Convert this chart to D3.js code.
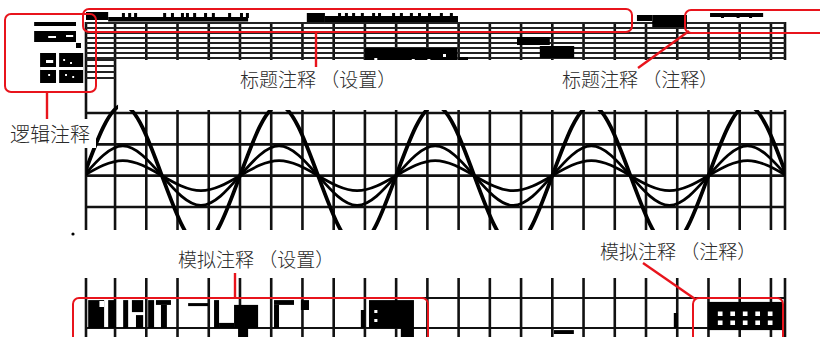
<!DOCTYPE html>
<html>
<head>
<meta charset="utf-8">
<script src="https://cdn.jsdelivr.net/npm/d3@7"></script>
<style>
  html, body { margin: 0; padding: 0; background: #fff; }
  svg { display: block; }
  .lbl { font-family: "Noto Sans CJK SC", sans-serif; font-weight: 300; fill: #2a2a2a; }
</style>
</head>
<body>
<div id="scope"></div>
<script>
const width = 820, height = 337;

// screen grid: columns and rows in divisions
const gridCols = [0, 1, 2, 3, 4, 5, 6, 7, 8, 9, 10, 11, 12, 13, 14, 15, 16, 17, 18, 19, 20, 21];
const borderCols = [-0.93, 21.45];
const waveRows = [2, 1, 0, -1];
const menuRows = [0, 1, 2, 3, 4, 5, 6, 7];
const sideRows = [7.4, 8.6, 9.8, 11];

// waveform samples: time (div) of crossings and extrema
const waveT = [-1, 0.25, 1.5, 2.75, 4, 5.25, 6.5, 7.75, 9, 10.25, 11.5, 12.75, 14, 15.25, 16.5, 17.75, 19, 20.25, 21.5];
const waveBig = [0, 2.25, 0, -2.25, 0, 2.25, 0, -2.25, 0, 2.25, 0, -2.25, 0, 2.25, 0, -2.25, 0, 2.25, 0];
const waveMid = [0, 0.95, 0, -0.95, 0, 0.95, 0, -0.95, 0, 0.95, 0, -0.95, 0, 0.95, 0, -0.95, 0, 0.95, 0];
const waveSmall = [0, 0.48, 0, -0.48, 0, 0.48, 0, -0.48, 0, 0.48, 0, -0.48, 0, 0.48, 0, -0.48, 0, 0.48, 0];

// screen content blobs [x0, x1, row0, row1]
const headerBlocks = [
  [-0.93, -0.22, -2.2, -0.6], [-0.22, 4.26, -1.2, -0.3],
  [6.14, 6.72, -2.0, -0.2], [6.72, 10.98, -1.4, -0.2],
  [16.71, 17.2, -1.6, -0.4], [17.2, 18.31, -1.6, 0.8],
  [19.05, 20.75, -2.0, -1.2],
  [8.0, 10.95, 5.0, 7.4], [12.87, 13.92, 2.8, 4.4], [13.6, 14.7, 4.6, 7.0], [11.0, 11.3, 6.8, 7.4]
];
const headerSpikes = [0.22, 0.42, 0.61, 1.54, 1.79, 2.11, 2.27, 2.5, 2.85, 3.1, 3.62, 4.0, 4.19,
  7.14, 7.36, 7.59, 7.87, 8.23, 8.42, 8.87, 9.12, 9.44, 9.7, 10.02, 10.4, 10.72, 19.4, 19.9, 20.3];
const headerHoles = [[8.3, 7.0], [9.5, 7.2], [10.0, 7.2], [10.5, 6.2]];

const logicBlocks = [
  [-2.59, -1.25, -0.2, 0.6], [-2.59, -1.25, 1.6, 3.8], [-1.25, -1.09, 4.0, 5.0], [-2.4, -1.02, 6.0, 12.0]
];
const logicHoles = [
  [-2.14, -1.89, 2.6, 3.0], [-1.57, -1.34, 2.4, 2.8], [-1.89, -1.79, 6.0, 12.0], [-2.4, -1.02, 8.8, 9.4],
  [-2.21, -1.98, 7.4, 8.0], [-1.66, -1.6, 7.2, 7.6], [-1.44, -1.38, 7.8, 8.2], [-1.6, -1.54, 10.2, 10.6],
  [-1.37, -1.31, 10.6, 11.0], [-2.14, -2.08, 10.2, 10.6]
];

const bottomBlocks = [
  [-0.86, -0.35, 0.07, 1], [-0.22, 0.03, 0.07, 1], [0.26, 0.42, 0.07, 1], [0.54, 0.9, 0.07, 0.47],
  [0.67, 0.9, 0.57, 1], [1.06, 1.25, 0.07, 1], [1.31, 1.79, 0.07, 0.23], [1.47, 1.66, 0.23, 1],
  [2.34, 2.98, 0.17, 0.27], [3.17, 3.33, 0.07, 1], [3.33, 3.81, 0.83, 1], [3.81, 4.58, 0.23, 1],
  [3.94, 4.26, 1, 1.3], [5.09, 5.73, 0.07, 0.23], [5.09, 5.25, 0.23, 1], [5.95, 6.21, 0.07, 0.4],
  [7.87, 8.0, 0.4, 1], [8.13, 9.57, 0.07, 1], [9.15, 9.57, 1, 1.3],
  [14.05, 14.69, 1.07, 1.2], [17.89, 18.02, 0.5, 1], [18.98, 21.38, 0.13, 1.07]
];
const bottomHoles = [
  [-0.5, -0.35, 0.1, 0.3], [8.3, 8.4, 0.4, 0.5], [8.3, 8.4, 0.7, 0.8],
  [19.3, 19.45, 0.45, 0.6], [19.7, 19.85, 0.45, 0.6], [20.1, 20.25, 0.45, 0.6], [20.5, 20.65, 0.45, 0.6], [20.9, 21.05, 0.45, 0.6],
  [19.3, 19.45, 0.75, 0.9], [19.7, 19.85, 0.75, 0.9], [20.1, 20.25, 0.75, 0.9], [20.5, 20.65, 0.75, 0.9], [20.9, 21.05, 0.75, 0.9]
];

// annotations
const labels = [
  { text: "逻辑注释", x: 10, y: 142, size: 20, bg: [3, 119, 93, 29] },
  { text: "标题注释 （设置）", x: 240, y: 87, size: 19 },
  { text: "标题注释 （注释）", x: 562, y: 87, size: 19 },
  { text: "模拟注释 （设置）", x: 178, y: 267, size: 19 },
  { text: "模拟注释 （注释）", x: 600, y: 259, size: 19 }
];
const redBoxes = [[83, 9, 549, 23], [685, 10, 150, 23], [5, 14, 91, 78], [73, 298, 355, 50], [693, 298, 90, 50]];
const redLines = [[316, 32, 316, 67], [638, 68, 689, 31], [47, 92, 47, 119], [235, 273, 235, 298], [643, 263, 695, 299]];

const x = d3.scaleLinear().domain([-0.93, 21.45]).range([86, 785]);
const yW = d3.scaleLinear().domain([-1, 2]).range([207, 113]);
const yTop = d3.scaleLinear().domain([0, 7]).range([23, 58]);
const yBot = d3.scaleLinear().domain([0, 1]).range([298, 328]);

const svg = d3.select("#scope").append("svg")
  .attr("width", width).attr("height", height);

svg.append("rect").attr("width", width).attr("height", height).attr("fill", "#fff");

const ink = "#111";
const allCols = gridCols.concat(borderCols);

// top menu band
let g_top = svg.append("g").attr("class", "menu");
g_top.selectAll("line.v").data(allCols).enter().append("line").attr("class", "v")
  .attr("x1", d => x(d)).attr("x2", d => x(d))
  .attr("y1", yTop(-0.2))
  .attr("y2", d => d <= 0 ? yW.range()[0] + 23 : yTop(7.4))
  .attr("stroke", ink).attr("stroke-width", 2.6);
g_top.selectAll("line.h").data(menuRows).enter().append("line").attr("class", "h")
  .attr("x1", x(-0.93)).attr("x2", x(21.45))
  .attr("y1", d => yTop(d)).attr("y2", d => yTop(d))
  .attr("stroke", "#222").attr("stroke-width", 2);
g_top.selectAll("line.s").data(sideRows).enter().append("line").attr("class", "s")
  .attr("x1", x(-0.93)).attr("x2", x(0))
  .attr("y1", d => yTop(d)).attr("y2", d => yTop(d))
  .attr("stroke", "#222").attr("stroke-width", 2);

const blockRect = (g, data, ys, fill) => g.selectAll(null).data(data).enter().append("rect")
  .attr("x", d => x(d[0])).attr("width", d => x(d[1]) - x(d[0]))
  .attr("y", d => ys(d[2])).attr("height", d => ys(d[3]) - ys(d[2]))
  .attr("fill", fill);

blockRect(g_top, headerBlocks, yTop, "#000");
g_top.selectAll(null).data(headerSpikes).enter().append("rect")
  .attr("x", d => x(d)).attr("width", 3)
  .attr("y", yTop(-2.0)).attr("height", yTop(-1.0) - yTop(-2.0))
  .attr("fill", "#000");
g_top.selectAll(null).data(headerHoles).enter().append("rect")
  .attr("x", d => x(d[0])).attr("width", 3)
  .attr("y", d => yTop(d[1])).attr("height", 3).attr("fill", "#fff");

// logic panel at left
let g_logic = svg.append("g").attr("class", "logic");
blockRect(g_logic, logicBlocks, yTop, "#000");
blockRect(g_logic, logicHoles, yTop, "#fff");

// waveform area
let g_wave = svg.append("g").attr("class", "wave");
g_wave.selectAll("line.v").data(gridCols.filter(d => d > 0).concat([21.45])).enter().append("line")
  .attr("x1", d => x(d)).attr("x2", d => x(d))
  .attr("y1", 110).attr("y2", 230)
  .attr("stroke", ink).attr("stroke-width", 2.6);
g_wave.selectAll("line.h").data(waveRows).enter().append("line")
  .attr("x1", x(-0.93)).attr("x2", x(21.45))
  .attr("y1", d => yW(d)).attr("y2", d => yW(d))
  .attr("stroke", ink).attr("stroke-width", 2.6);

svg.append("clipPath").attr("id", "clipw").append("path")
  .attr("d", `M${x(-0.93)},97 L${x(0) + 3},97 L${x(0) + 3},110 L${x(21.45)},110 L${x(21.45)},230 L${x(-0.93)},230 Z`);

const waveLine = d3.line()
  .x((d, i) => x(waveT[i])).y(d => yW(d))
  .curve(d3.curveNatural);

g_wave.append("g").attr("clip-path", "url(#clipw)")
  .selectAll("path").data([waveBig, waveMid, waveSmall]).enter().append("path")
  .attr("d", waveLine)
  .attr("fill", "none").attr("stroke", "#000")
  .attr("stroke-width", (d, i) => i === 0 ? 3.8 : 2.8);

svg.append("circle").attr("cx", 73).attr("cy", 234).attr("r", 1.6).attr("fill", "#000");

// bottom band
let g_bot = svg.append("g").attr("class", "bottom");
g_bot.selectAll("line.v").data(allCols).enter().append("line")
  .attr("x1", d => x(d)).attr("x2", d => x(d))
  .attr("y1", 278).attr("y2", height)
  .attr("stroke", ink).attr("stroke-width", 2.6);
g_bot.selectAll("line.h").data([0, 1]).enter().append("line")
  .attr("x1", x(-0.93)).attr("x2", x(21.45))
  .attr("y1", d => yBot(d)).attr("y2", d => yBot(d))
  .attr("stroke", ink).attr("stroke-width", 2.2);
blockRect(g_bot, bottomBlocks, yBot, "#000");
blockRect(g_bot, bottomHoles, yBot, "#fff");

// annotations
let g_ann = svg.append("g").attr("class", "annot");
labels.filter(d => d.bg).forEach(d => {
  g_ann.append("rect").attr("x", d.bg[0]).attr("y", d.bg[1])
    .attr("width", d.bg[2]).attr("height", d.bg[3]).attr("fill", "#fff");
});
g_ann.selectAll("rect.box").data(redBoxes).enter().append("rect").attr("class", "box")
  .attr("x", d => d[0]).attr("y", d => d[1])
  .attr("width", d => d[2]).attr("height", d => d[3])
  .attr("rx", 6).attr("fill", "none")
  .attr("stroke", "#e8141c").attr("stroke-width", 2);
g_ann.selectAll("line").data(redLines).enter().append("line")
  .attr("x1", d => d[0]).attr("y1", d => d[1])
  .attr("x2", d => d[2]).attr("y2", d => d[3])
  .attr("stroke", "#e8141c").attr("stroke-width", 2.4);
g_ann.selectAll("text").data(labels).enter().append("text")
  .attr("class", "lbl")
  .attr("x", d => d.x).attr("y", d => d.y)
  .attr("font-size", d => d.size)
  .text(d => d.text);
</script>
</body>
</html>
